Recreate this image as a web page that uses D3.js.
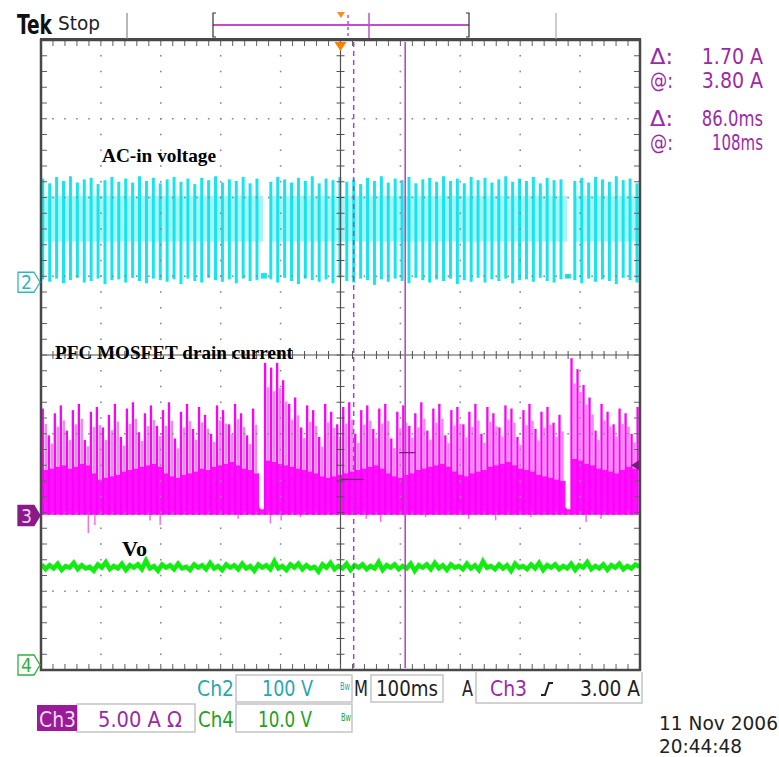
<!DOCTYPE html>
<html>
<head>
<meta charset="utf-8">
<script src="https://cdn.jsdelivr.net/npm/d3@7"></script>
<style>
  body { margin: 0; background: #fff; }
  text { font-family: "DejaVu Sans Condensed", "Liberation Sans Narrow", "DejaVu Sans", sans-serif; }
  .serif { font-family: "Liberation Serif", "DejaVu Serif", serif; font-weight: bold; }
</style>
</head>
<body>
<div id="chart"></div>
<script>
// ---- Data ----
// grid: 10 x 100 ms horizontally, 8 divisions vertically
const timeDivs = [-500, -400, -300, -200, -100, 0, 100, 200, 300, 400, 500];
const vertDivs = [-4, -3, -2, -1, 0, 1, 2, 3, 4];

// Ch2 (AC-in voltage, 100 V/div): one entry per visible stroke, top and bottom in volts
const ch2High = [
  124, 118, 126, 121, 127, 119, 123, 125, 117, 122,
  126, 120, 124, 119, 127, 121, 125, 118, 123, 126,
  120, 124, 117, 125, 122, 127, 119, 123, 121, 126,
  118, 124, 4,
  120, 126, 123, 119, 125, 121, 127, 118, 124, 122,
  126, 120, 123, 117, 125, 121, 127, 119, 124, 122,
  126, 118, 123, 125, 120, 127, 121, 124, 118, 126,
  122, 125, 119, 123, 127, 120, 124, 121, 126, 118,
  125, 122, 123, 3,
  121, 125, 119, 126, 123, 120, 127, 122, 124, 118
];
const ch2Low = [
  -4, -7, -3, -9, -5, -2, -8, -6, -3, -10,
  -5, -4, -8, -2, -6, -9, -3, -5, -7, -4,
  -10, -3, -6, -8, -2, -5, -7, -4, -9, -3,
  -6, -5, -3,
  -4, -8, -2, -6, -10, -3, -5, -7, -4, -9,
  -2, -6, -8, -3, -5, -11, -4, -7, -3, -6,
  -9, -2, -5, -8, -4, -6, -3, -10, -5, -7,
  -2, -8, -4, -6, -3, -9, -5, -4, -7, -2,
  -6, -8, -4, -3,
  -5, -9, -3, -7, -4, -6, -10, -2, -5, -8
];

// Ch3 (PFC MOSFET drain current, 5 A/div): spike tops and dense body top, amps
const ch3Peak = [
  6.6, 4.9, 6.3, 6.8, 5.2, 6.5, 6.9, 4.6, 6.4, 6.7,
  5.4, 6.2, 6.9, 4.8, 6.6, 7.0, 5.1, 6.3, 6.8, 5.5,
  6.5, 7.0, 4.7, 6.4, 6.9, 5.3, 6.7, 6.2, 5.0, 6.8,
  6.5, 5.6, 6.9, 6.3, 4.9, 6.6,
  0.3,
  9.5, 9.2, 9.5, 8.4, 6.9, 7.3,
  5.4, 6.8, 6.5, 4.8, 6.9, 6.4, 5.6,
  6.7, 7.0, 5.0, 6.5, 6.8, 5.3, 6.6, 6.9, 4.7, 6.4,
  6.8, 5.5, 6.3, 7.0, 5.2, 6.6, 6.9, 4.9, 6.5, 6.7,
  5.6, 6.4, 6.9, 5.0, 6.7, 6.3, 5.4, 6.8, 6.6, 4.8,
  6.5, 6.9, 5.3, 6.4, 6.7, 5.7, 6.2,
  0.3,
  9.8, 9.1, 8.1, 7.3,
  5.2, 6.9, 6.4, 5.6, 6.6, 6.3, 5.0, 6.7
];
const ch3Body = [
  2.7, 2.8, 2.9, 3.0, 2.8, 2.9, 3.1, 3.0, 2.5, 2.1,
  2.2, 2.3, 2.4, 2.6, 2.7, 2.8, 2.9, 3.0, 3.1, 2.9,
  2.5, 2.3, 2.2, 2.4, 2.5, 2.6, 2.8, 2.7, 2.9, 3.0,
  3.1, 3.2, 3.0, 2.8, 2.7, 2.5,
  0.2,
  3.3, 3.2, 3.1, 3.0, 2.9, 2.8,
  2.7, 2.6, 2.5, 2.3, 2.2, 2.3, 2.4,
  2.5, 2.6, 2.7, 2.8, 2.9, 3.0, 2.8, 2.5, 2.3, 2.2,
  2.4, 2.5, 2.7, 2.8, 2.9, 3.0, 3.1, 2.9, 2.6, 2.4,
  2.3, 2.5, 2.6, 2.7, 2.9, 3.0, 3.1, 3.2, 3.0, 2.8,
  2.7, 2.6, 2.4, 2.3, 2.2, 2.1, 2.0,
  0.2,
  3.4, 3.3, 3.1, 3.0,
  2.8, 2.7, 2.6, 2.5, 2.7, 2.9, 2.8, 2.7
];
// negative ringing below the Ch3 baseline: [ms, A]
const ch3Dips = [
  [-421, -1.3], [-410, -0.8], [-318, -0.5], [-301, -0.8], [-171, -0.4], [-117, -0.7],
  [-99, -0.5], [-67, -0.3], [43, -0.4], [67, -0.6], [142, -0.3], [214, -0.4],
  [259, -0.5], [318, -0.3], [410, -0.6], [435, -0.4]
];

// Ch4 (Vo, 10 V/div): noisy output level, volts
const ch4Vo = [
  13.4, 12.8, 13.3, 12.9, 13.5, 12.7, 13.2, 13.0, 13.6, 12.8,
  13.3, 12.9, 13.1, 12.6, 13.4, 13.0, 13.7, 12.8, 13.2, 12.9,
  13.5, 12.7, 13.3, 13.0, 13.4, 12.8, 13.9, 12.9, 13.2, 12.6,
  13.4, 13.0, 13.3, 12.8, 13.5, 12.9, 13.1, 12.7, 13.4, 13.0,
  13.3, 12.8, 13.6, 12.9, 13.2, 12.7, 13.4, 13.0, 13.3, 12.8,
  13.5, 12.9, 13.2, 12.6, 13.4, 13.0, 13.3, 12.8, 13.8, 12.9,
  13.2, 12.7, 13.4, 13.0, 13.5, 12.8, 13.3, 12.9, 13.1, 12.5,
  13.4, 13.0, 13.6, 12.8, 13.2, 12.9, 13.5, 12.7, 13.3, 13.0,
  13.4, 12.8, 13.2, 12.9, 13.7, 12.7, 13.3, 13.0, 13.4, 12.8,
  13.2, 12.9, 13.5, 12.6, 13.3, 13.0, 13.4, 12.8, 13.6, 12.9,
  13.3, 12.7, 13.4, 13.0, 13.2, 12.8, 13.5, 12.9, 13.3, 12.7,
  13.8, 13.0, 13.2, 12.8, 13.4, 12.9, 13.3, 12.6, 13.5, 13.0,
  13.2, 12.8, 13.4, 12.9, 13.6, 12.7, 13.3, 13.0, 13.4, 12.8,
  13.2, 12.9, 13.5, 12.7, 13.3, 13.0, 13.7, 12.8, 13.2, 12.9,
  13.4, 12.7, 13.3, 13.0, 13.5, 12.8, 13.2, 12.9, 13.4, 13.1
];

// cursors (ms) and readouts
const cursorA = 22, cursorB = 108;
const readouts = [["Δ:", "1.70 A"], ["@:", "3.80 A"], ["Δ:", "86.0ms"], ["@:", "108ms"]];

// ---- Scales ----
const plot = { left: 41, right: 640, top: 40, bottom: 670 };
const x = d3.scaleLinear().domain([-500, 500]).range([plot.left, plot.right]);
const yDiv = d3.scaleLinear().domain([-4, 4]).range([plot.bottom, plot.top]);
const yCh2 = d3.scaleLinear().domain([-500, 300]).range([plot.bottom, plot.top]); // ground +1 div
const yCh3 = d3.scaleLinear().domain([-10, 30]).range([plot.bottom, plot.top]);   // ground -2 div
const yCh4 = d3.scaleLinear().domain([0, 80]).range([plot.bottom, plot.top]);     // ground -4 div

const ch2Time = d3.scalePoint().domain(d3.range(ch2High.length)).range([-497, 495]);
const ch3Time = d3.scalePoint().domain(d3.range(ch3Peak.length)).range([-497, 496]);
const ch4Time = d3.scalePoint().domain(d3.range(ch4Vo.length)).range([-499, 499]);

const svg = d3.select('#chart').append('svg')
  .attr('width', 779).attr('height', 757)
  .style('background', '#fff');

svg.append('clipPath').attr('id', 'clip')
  .append('rect')
  .attr('x', plot.left).attr('y', plot.top)
  .attr('width', plot.right - plot.left).attr('height', plot.bottom - plot.top);

const traces = svg.append('g').attr('clip-path', 'url(#clip)');

// ---- Ch2 cyan ----
const ch2 = ch2High.map((h, i) => ({ t: ch2Time(i), h, l: ch2Low[i] }));
traces.append('g').selectAll('rect')
  .data(ch2.filter(d => d.h > 50))
  .join('rect')
  .attr('x', d => x(d.t) + 1)
  .attr('width', 5)
  .attr('y', yCh2(102))
  .attr('height', yCh2(44) - yCh2(102))
  .attr('fill', '#a6f4f6');
traces.append('g').selectAll('line')
  .data(ch2)
  .join('line')
  .attr('x1', d => x(d.t)).attr('x2', d => x(d.t))
  .attr('y1', d => yCh2(d.l)).attr('y2', d => yCh2(d.h))
  .attr('stroke', '#14e6ee')
  .attr('stroke-width', d => d.h > 50 ? 3 : 6);

// ---- Ch3 magenta ----
const ch3 = ch3Peak.map((p, i) => ({ t: ch3Time(i), p, b: ch3Body[i] }));
traces.append('g').selectAll('line')
  .data(ch3Dips)
  .join('line')
  .attr('x1', d => x(d[0])).attr('x2', d => x(d[0]))
  .attr('y1', yCh3(0)).attr('y2', d => yCh3(d[1]))
  .attr('stroke', '#f070f0').attr('stroke-width', 1.5);
traces.append('g').selectAll('line')
  .data(ch3.filter(d => d.p > 1))
  .join('line')
  .attr('x1', d => x(d.t) + 3).attr('x2', d => x(d.t) + 3)
  .attr('y1', d => yCh3(d.b)).attr('y2', d => yCh3(d.b + (d.p - d.b) * 0.75))
  .attr('stroke', '#f584f5').attr('stroke-width', 2.5);
traces.append('path')
  .datum(ch3)
  .attr('d', d3.area()
    .x(d => x(d.t))
    .y0(yCh3(-0.15))
    .y1(d => yCh3(d.b))
    .curve(d3.curveStepAfter))
  .attr('fill', '#ff10ff');
traces.append('g').selectAll('line')
  .data(ch3)
  .join('line')
  .attr('x1', d => x(d.t)).attr('x2', d => x(d.t))
  .attr('y1', yCh3(-0.15)).attr('y2', d => yCh3(d.p))
  .attr('stroke', '#ff00ff').attr('stroke-width', 2.3);

// ---- Ch4 green ----
traces.append('path')
  .datum(ch4Vo)
  .attr('d', d3.line().x((d, i) => x(ch4Time(i))).y(d => yCh4(d)))
  .attr('fill', 'none')
  .attr('stroke', '#10ee10')
  .attr('stroke-width', 4.5)
  .attr('stroke-linejoin', 'miter');

// ---- Graticule ----
const grid = svg.append('g');
const minorT = d3.range(-500, 500.1, 20);
const minorV = d3.range(-4, 4.01, 0.2);
const dotColor = '#8a8a8a';
timeDivs.filter(t => t !== 0 && Math.abs(t) !== 500).forEach(t => {
  grid.append('g').selectAll('rect').data(minorV).join('rect')
    .attr('x', x(t) - 0.8).attr('y', d => yDiv(d) - 0.8)
    .attr('width', 1.6).attr('height', 1.6).attr('fill', dotColor);
});
vertDivs.filter(v => v !== 0 && Math.abs(v) !== 4).forEach(v => {
  grid.append('g').selectAll('rect').data(minorT).join('rect')
    .attr('x', d => x(d) - 0.8).attr('y', yDiv(v) - 0.8)
    .attr('width', 1.6).attr('height', 1.6).attr('fill', dotColor);
});
// centre cross with minor ticks
grid.append('line').attr('x1', x(0)).attr('x2', x(0)).attr('y1', plot.top).attr('y2', plot.bottom)
  .attr('stroke', '#505050').attr('stroke-width', 1.2);
grid.append('line').attr('x1', plot.left).attr('x2', plot.right).attr('y1', yDiv(0)).attr('y2', yDiv(0))
  .attr('stroke', '#505050').attr('stroke-width', 1.2);
grid.append('g').selectAll('line').data(minorV).join('line')
  .attr('x1', x(0) - 4).attr('x2', x(0) + 4).attr('y1', d => yDiv(d)).attr('y2', d => yDiv(d))
  .attr('stroke', '#505050');
grid.append('g').selectAll('line').data(minorT).join('line')
  .attr('x1', d => x(d)).attr('x2', d => x(d)).attr('y1', yDiv(0) - 4).attr('y2', yDiv(0) + 4)
  .attr('stroke', '#505050');
// frame ticks
grid.append('g').selectAll('line').data(minorT).join('line')
  .attr('x1', d => x(d)).attr('x2', d => x(d)).attr('y1', plot.top).attr('y2', plot.top + 6)
  .attr('stroke', '#606060');
grid.append('g').selectAll('line').data(minorT).join('line')
  .attr('x1', d => x(d)).attr('x2', d => x(d)).attr('y1', plot.bottom).attr('y2', plot.bottom - 6)
  .attr('stroke', '#606060');
grid.append('g').selectAll('line').data(minorV).join('line')
  .attr('x1', plot.left).attr('x2', plot.left + 6).attr('y1', d => yDiv(d)).attr('y2', d => yDiv(d))
  .attr('stroke', '#606060');
grid.append('g').selectAll('line').data(minorV).join('line')
  .attr('x1', plot.right).attr('x2', plot.right - 6).attr('y1', d => yDiv(d)).attr('y2', d => yDiv(d))
  .attr('stroke', '#606060');
grid.append('rect')
  .attr('x', plot.left).attr('y', plot.top)
  .attr('width', plot.right - plot.left).attr('height', plot.bottom - plot.top)
  .attr('fill', 'none').attr('stroke', '#484848').attr('stroke-width', 2.5);
grid.append('line').attr('x1', plot.left - 1).attr('x2', plot.right + 1)
  .attr('y1', plot.top - 1).attr('y2', plot.top - 1)
  .attr('stroke', '#484848').attr('stroke-width', 2);

// ---- Cursors ----
svg.append('line').attr('x1', x(cursorA)).attr('x2', x(cursorA))
  .attr('y1', plot.top + 2).attr('y2', plot.bottom - 2)
  .attr('stroke', '#b040c8').attr('stroke-width', 1.5).attr('stroke-dasharray', '5,4');
svg.append('line').attr('x1', x(cursorB)).attr('x2', x(cursorB))
  .attr('y1', plot.top + 2).attr('y2', plot.bottom - 2)
  .attr('stroke', '#b848c8').attr('stroke-width', 1.6);
// cursor readout markers on Ch3
svg.append('line').attr('x1', x(cursorA) - 12).attr('x2', x(cursorA) + 10)
  .attr('y1', yCh3(2.1)).attr('y2', yCh3(2.1)).attr('stroke', '#7a1a7a').attr('stroke-width', 1.3);
svg.append('line').attr('x1', x(cursorB) - 6).attr('x2', x(cursorB) + 10)
  .attr('y1', yCh3(3.8)).attr('y2', yCh3(3.8)).attr('stroke', '#7a1a7a').attr('stroke-width', 1.3);
// trigger level arrow
svg.append('path')
  .attr('d', `M${plot.right - 9},${yCh3(3)} l8,-5 v10 z`)
  .attr('fill', '#7a1a7a');
// trigger position marker
svg.append('path')
  .attr('d', `M${x(0) - 6},${plot.top + 2} h12 l-6,9 z`)
  .attr('fill', '#ff8000');

// ---- Header ----
const text = (g, px, py, str, o = {}) => {
  const t = g.append('text').attr('x', px).attr('y', py).text(str)
    .attr('font-size', o.size || 20).attr('fill', o.fill || '#222');
  if (o.len) t.attr('textLength', o.len).attr('lengthAdjust', 'spacingAndGlyphs');
  if (o.anchor) t.attr('text-anchor', o.anchor);
  if (o.weight) t.attr('font-weight', o.weight);
  if (o.cls) t.attr('class', o.cls);
  return t;
};
text(svg, 17, 34, 'Tek', { size: 26, weight: 'bold', len: 35, fill: '#111' });
text(svg, 58, 30, 'Stop', { size: 19, len: 42, fill: '#222' });
svg.append('line').attr('x1', 127).attr('x2', 127).attr('y1', 13).attr('y2', 39).attr('stroke', '#888').attr('stroke-width', 1.2);
svg.append('line').attr('x1', 556).attr('x2', 556).attr('y1', 13).attr('y2', 39).attr('stroke', '#aaa').attr('stroke-width', 1.2);
svg.append('line').attr('x1', 213).attr('x2', 469).attr('y1', 25).attr('y2', 25).attr('stroke', '#c050c8').attr('stroke-width', 2);
svg.append('path').attr('d', 'M216,13 h-3 v24 h3').attr('fill', 'none').attr('stroke', '#333').attr('stroke-width', 1.2);
svg.append('path').attr('d', 'M466,13 h3 v24 h-3').attr('fill', 'none').attr('stroke', '#333').attr('stroke-width', 1.2);
svg.append('path').attr('d', 'M337,12 h8 l-4,6 z').attr('fill', '#ff8c1a');
svg.append('line').attr('x1', 348).attr('x2', 348).attr('y1', 15).attr('y2', 38)
  .attr('stroke', '#c050c8').attr('stroke-width', 1.5).attr('stroke-dasharray', '3,3');
svg.append('line').attr('x1', 369).attr('x2', 369).attr('y1', 13).attr('y2', 38)
  .attr('stroke', '#c050c8').attr('stroke-width', 1.5);

// ---- Readouts on the right ----
const purple = '#9b2aa8';
const readY = [64, 88, 126, 150];
readouts.forEach((r, i) => {
  text(svg, 650, readY[i], r[0], { size: 21, fill: purple, len: 23 });
  text(svg, 763, readY[i], r[1], { size: 21, fill: purple, anchor: 'end', len: r[1].length * 10.2 });
});

// ---- Trace labels ----
text(svg, 102, 162, 'AC-in voltage', { size: 19, cls: 'serif', len: 114, fill: '#000' });
text(svg, 55, 359, 'PFC MOSFET drain current', { size: 19, cls: 'serif', len: 238, fill: '#000' });
text(svg, 122, 556, 'Vo', { size: 22, cls: 'serif', len: 25, fill: '#000' });

// ---- Channel ground markers ----
const marker = (yy, label, col, filled) => {
  svg.append('path')
    .attr('d', `M18,${yy - 10} h16 l6,10 l-6,10 h-16 z`)
    .attr('fill', filled ? col : '#fff').attr('stroke', col).attr('stroke-width', 1.3);
  text(svg, 21, yy + 7, label, { size: 19, fill: filled ? '#f0d0f0' : col, len: 11 });
};
marker(yCh2(0) + 6, '2', '#30b8c0', false);
marker(yCh3(0) + 3, '3', '#8a1a8a', true);
marker(yCh4(0) - 5, '4', '#30b040', false);

// ---- Bottom status boxes ----
const box = (x0, y0, w, h) => svg.append('rect').attr('x', x0).attr('y', y0).attr('width', w).attr('height', h)
  .attr('fill', 'none').attr('stroke', '#c4c4c4').attr('stroke-width', 1.5);
const teal = '#2aa6b0', green = '#22a022';
box(236, 675, 116, 27);
box(371, 675, 72, 27);
svg.append('path').attr('d', 'M476,672 V703 H642 V672').attr('fill', 'none').attr('stroke', '#c4c4c4').attr('stroke-width', 1.5);
box(77, 704, 118, 28);
box(236, 704, 116, 28);
svg.append('rect').attr('x', 37).attr('y', 705).attr('width', 40).attr('height', 26).attr('fill', '#9a1a9a');

text(svg, 197, 696, 'Ch2', { fill: teal, size: 22, len: 37 });
text(svg, 262, 696, '100 V', { fill: teal, size: 22, len: 51 });
text(svg, 340, 690, 'Bw', { fill: teal, size: 10, len: 10 });
text(svg, 354, 696, 'M', { fill: '#222', size: 22, len: 14 });
text(svg, 376, 696, '100ms', { fill: '#222', size: 22, len: 62 });
text(svg, 462, 696, 'A', { fill: '#222', size: 22, len: 11 });
text(svg, 490, 696, 'Ch3', { fill: purple, size: 22, len: 37 });
svg.append('path').attr('d', 'M541,695 h4 l4,-12 h4').attr('fill', 'none').attr('stroke', '#222').attr('stroke-width', 2);
text(svg, 580, 696, '3.00 A', { fill: '#222', size: 22, len: 60 });

text(svg, 39, 727, 'Ch3', { fill: '#f4dcf4', size: 22, len: 37 });
text(svg, 98, 727, '5.00 A Ω', { fill: purple, size: 22, len: 84 });
text(svg, 198, 727, 'Ch4', { fill: green, size: 22, len: 36 });
text(svg, 258, 727, '10.0 V', { fill: green, size: 22, len: 54 });
text(svg, 341, 721, 'Bw', { fill: green, size: 10, len: 10 });

text(svg, 659, 730, '11 Nov 2006', { fill: '#222', size: 20, len: 119 });
text(svg, 659, 753, '20:44:48', { fill: '#222', size: 20, len: 83 });
</script>
</body>
</html>
